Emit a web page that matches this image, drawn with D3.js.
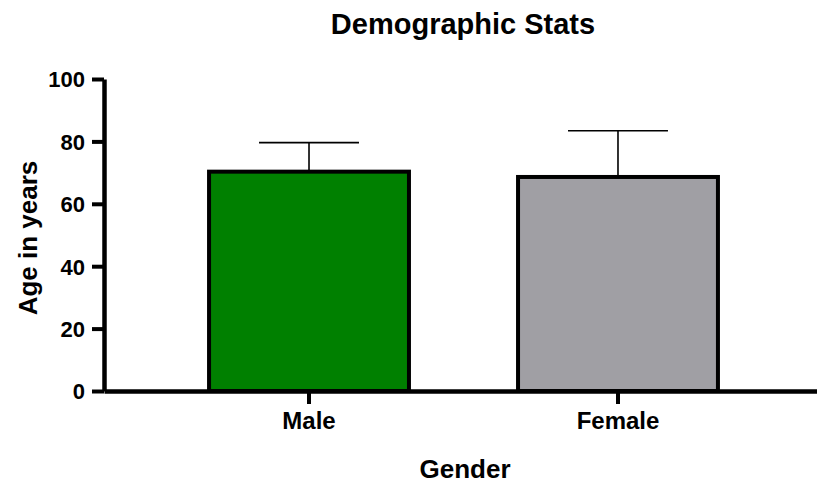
<!DOCTYPE html>
<html>
<head>
<meta charset="utf-8">
<script src="https://cdn.jsdelivr.net/npm/d3@7"></script>
<style>
  body { margin: 0; background: #fff; }
  text { font-family: "Liberation Sans", Arial, sans-serif; font-weight: bold; fill: #000; }
</style>
</head>
<body>
<div id="chart"></div>
<script>
const genders = ["Male", "Female"];
const meanAge = [70.3, 68.6];
const errAge = [9.3, 14.8];
const barColors = ["#008000", "#a09fa4"];
const yTicks = [0, 20, 40, 60, 80, 100];

const W = 817, H = 485;
const svg = d3.select("#chart").append("svg")
    .attr("width", W)
    .attr("height", H);

const x = d3.scaleBand()
    .domain(genders)
    .range([104, 823])
    .paddingInner(0.353)
    .paddingOuter(0.34);

const y = d3.scaleLinear()
    .domain([0, 100])
    .range([391, 79]);

const data = genders.map((g, i) => ({ gender: g, mean: meanAge[i], err: errAge[i], color: barColors[i] }));

// error bars (drawn first, bar stroke covers the base)
const eb = svg.append("g").attr("class", "errorbars");
eb.selectAll("line.stem")
    .data(data)
    .enter().append("line")
    .attr("x1", d => x(d.gender) + x.bandwidth() / 2)
    .attr("x2", d => x(d.gender) + x.bandwidth() / 2)
    .attr("y1", d => y(d.mean))
    .attr("y2", d => y(d.mean + d.err))
    .attr("stroke", "#000")
    .attr("stroke-width", 1.6);

eb.selectAll("line.cap")
    .data(data)
    .enter().append("line")
    .attr("x1", d => x(d.gender) + x.bandwidth() / 4)
    .attr("x2", d => x(d.gender) + x.bandwidth() * 3 / 4)
    .attr("y1", d => y(d.mean + d.err))
    .attr("y2", d => y(d.mean + d.err))
    .attr("stroke", "#000")
    .attr("stroke-width", 1.6);

svg.selectAll(".bar")
    .data(data)
    .enter().append("rect")
    .attr("class", "bar")
    .attr("x", d => x(d.gender))
    .attr("y", d => y(d.mean))
    .attr("width", x.bandwidth())
    .attr("height", d => y(0) - y(d.mean))
    .attr("fill", d => d.color)
    .attr("stroke", "#000")
    .attr("stroke-width", 4);

// y axis
const yAxis = svg.append("g")
    .attr("transform", "translate(104,0)")
    .call(d3.axisLeft(y).tickValues(yTicks).tickSize(12).tickPadding(7).tickSizeOuter(0));
yAxis.select(".domain").attr("stroke-width", 4.5).attr("stroke", "#000");
yAxis.selectAll(".tick line").attr("stroke-width", 4).attr("stroke", "#000");
yAxis.selectAll(".tick text").style("font-size", "22px").attr("dy", "0.36em");

// x axis
const xAxis = svg.append("g")
    .attr("transform", "translate(0,391)")
    .call(d3.axisBottom(x).tickSize(13).tickPadding(8).tickSizeOuter(0));
xAxis.select(".domain").attr("stroke-width", 4.5).attr("stroke", "#000");
xAxis.selectAll(".tick line").attr("stroke-width", 4).attr("stroke", "#000");
xAxis.selectAll(".tick text").style("font-size", "24px");

svg.append("text")
    .attr("x", 463)
    .attr("y", 34)
    .attr("text-anchor", "middle")
    .style("font-size", "29px")
    .text("Demographic Stats");

svg.append("text")
    .attr("x", 465)
    .attr("y", 478)
    .attr("text-anchor", "middle")
    .style("font-size", "26px")
    .text("Gender");

svg.append("text")
    .attr("transform", "translate(37,238) rotate(-90)")
    .attr("text-anchor", "middle")
    .style("font-size", "26px")
    .text("Age in years");
</script>
</body>
</html>
